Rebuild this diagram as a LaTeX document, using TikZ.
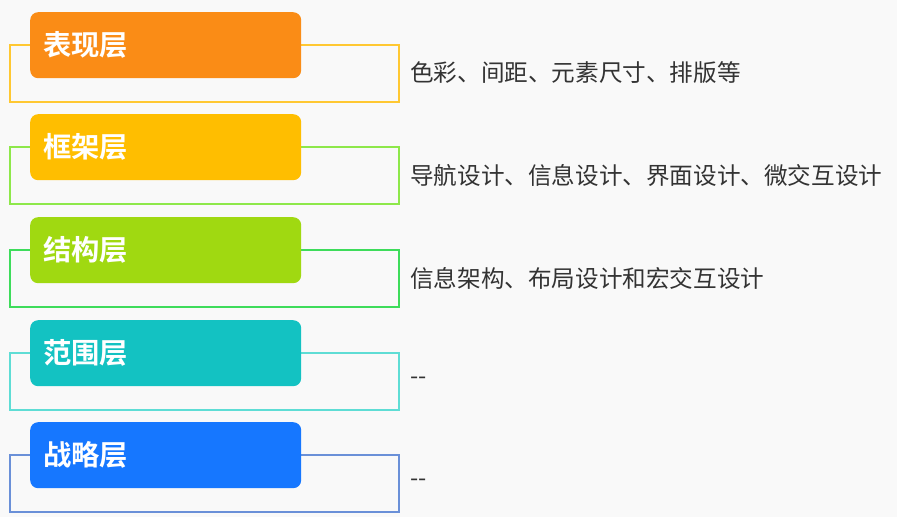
\documentclass[tikz,border=0pt]{standalone}
\usepackage{fontspec}
\newfontfamily\cjk{Noto Sans CJK SC}
\newfontfamily\cjkb{Noto Sans CJK SC Bold}
\definecolor{bgc}{HTML}{F9F9F9}
\definecolor{c1}{HTML}{FA8C16}
\definecolor{c2}{HTML}{FFBE00}
\definecolor{c3}{HTML}{A0D911}
\definecolor{c4}{HTML}{13C2C2}
\definecolor{c5}{HTML}{1677FF}
\definecolor{o1}{HTML}{FFC832}
\definecolor{o2}{HTML}{8EE84A}
\definecolor{o3}{HTML}{3EDC5B}
\definecolor{o4}{HTML}{5FDDD5}
\definecolor{o5}{HTML}{6A90D8}
\definecolor{txt}{HTML}{333333}
\tikzset{
  layerbox/.style={rounded corners=8pt, minimum width=271pt, minimum height=66pt, inner sep=0pt, anchor=north west},
  layerlbl/.style={anchor=west, text=white, font=\cjkb\fontsize{28.3}{31}\selectfont, inner sep=0pt},
  desc/.style={anchor=west, text=txt, font=\cjk\fontsize{23.6}{26}\selectfont, inner sep=0pt},
  frame/.style={line width=1.5pt}
}
\begin{document}
\begin{tikzpicture}[x=1pt,y=-1pt]
\useasboundingbox (0,0) rectangle (897,517);
\fill[bgc] (0,0) rectangle (897,517);
\foreach \t/\lbl/\d/\fc/\oc [count=\i] in {
  12/表现层/色彩、间距、元素尺寸、排版等/c1/o1,
  114/框架层/导航设计、信息设计、界面设计、微交互设计/c2/o2,
  217/结构层/信息架构、布局设计和宏交互设计/c3/o3,
  320/范围层/--/c4/o4,
  422/战略层/--/c5/o5}{
  \coordinate (ftl\i) at (10,\t+33);
  \coordinate (fbr\i) at (399,\t+90);
  \draw[frame, draw=\oc] (ftl\i) rectangle (fbr\i);
  \node[layerbox, fill=\fc] (box\i) at (30,\t) {};
  \node[layerlbl] (lbl\i) at (43,\t+33) {\lbl};
  \node[desc] (desc\i) at (410,\t+61) {\d};
}
\end{tikzpicture}
\end{document}
